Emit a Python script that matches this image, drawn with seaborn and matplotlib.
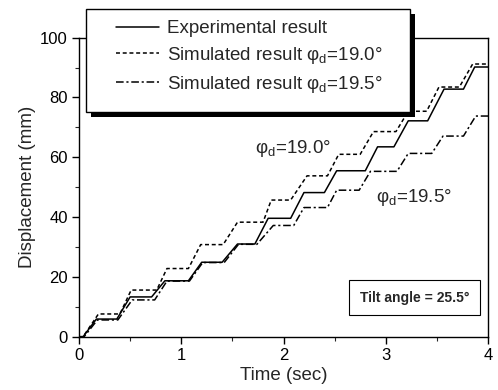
import matplotlib
matplotlib.use("Agg")
import matplotlib.pyplot as plt
import seaborn as sns
import pandas as pd
from matplotlib.patches import Rectangle
from matplotlib.ticker import MultipleLocator

# ---- data ----
t_exp = [0, 0.04, 0.17, 0.37, 0.50, 0.71, 0.84, 1.07, 1.20, 1.40, 1.55, 1.72, 1.85, 2.07,
         2.20, 2.40, 2.52, 2.80, 2.92, 3.08, 3.22, 3.41, 3.57, 3.76, 3.87, 4.00]
y_exp = [0, 0, 5.9, 5.9, 13.3, 13.3, 18.7, 18.7, 24.9, 24.9, 31.0, 31.0, 39.6, 39.6,
         48.2, 48.2, 55.5, 55.5, 63.5, 63.5, 72.2, 72.2, 82.8, 82.8, 90.2, 90.2]

t_190 = [0, 0.04, 0.19, 0.40, 0.51, 0.76, 0.86, 1.07, 1.19, 1.41, 1.55, 1.80, 1.88, 2.07,
         2.23, 2.43, 2.54, 2.75, 2.88, 3.10, 3.22, 3.40, 3.52, 3.72, 3.85, 4.00]
y_190 = [0, 0, 7.6, 7.6, 15.6, 15.6, 22.8, 22.8, 30.8, 30.8, 38.3, 38.3, 45.7, 45.7,
         53.8, 53.8, 61.0, 61.0, 68.6, 68.6, 75.4, 75.4, 83.5, 83.5, 91.2, 91.2]

t_195 = [0, 0.05, 0.18, 0.38, 0.52, 0.74, 0.86, 1.08, 1.21, 1.42, 1.56, 1.74, 1.90, 2.10,
         2.20, 2.43, 2.52, 2.74, 2.85, 3.11, 3.22, 3.45, 3.56, 3.76, 3.88, 4.00]
y_195 = [0, 0, 5.6, 5.6, 12.3, 12.3, 18.6, 18.6, 24.8, 24.8, 30.9, 30.9, 37.2, 37.2,
         43.2, 43.2, 49.0, 49.0, 55.3, 55.3, 61.3, 61.3, 67.1, 67.1, 73.8, 73.8]

labels = ["Experimental result",
          "Simulated result \u03c6$_\\mathregular{d}$=19.0\u00b0",
          "Simulated result \u03c6$_\\mathregular{d}$=19.5\u00b0"]
x_ticks = [0, 1, 2, 3, 4]
y_ticks = [0, 20, 40, 60, 80, 100]

# ---- style ----
sns.set_style("ticks")
plt.rcParams["font.family"] = ["Liberation Sans", "DejaVu Sans"]
plt.rcParams["mathtext.fontset"] = "custom"
plt.rcParams["mathtext.rm"] = "Liberation Sans"
plt.rcParams["mathtext.it"] = "Liberation Sans:italic"

fig = plt.figure(figsize=(4.98, 3.90), dpi=100)
ax = fig.add_axes([79 / 498, 1 - 336.7 / 390, (488 - 79) / 498, (336.7 - 37.7) / 390])

series = [(t_exp, y_exp, labels[0], "-"),
          (t_190, y_190, labels[1], (0, (2.6, 1.8))),
          (t_195, y_195, labels[2], (0, (5, 1.8, 1.4, 1.8)))]
for t, y, lab, ls in series:
    df = pd.DataFrame({"t": t, "y": y})
    sns.lineplot(data=df, x="t", y="y", ax=ax, color="black", lw=1.1,
                 linestyle=ls, label=lab, estimator=None, sort=False)

ax.set_xlim(0, 4)
ax.set_ylim(0, 100)
ax.set_xticks(x_ticks)
ax.set_yticks(y_ticks)
ax.xaxis.set_minor_locator(MultipleLocator(0.5))
ax.yaxis.set_minor_locator(MultipleLocator(10))
ax.tick_params(which="major", direction="out", length=5, width=1, labelsize=12, pad=3,
               colors="black")
ax.tick_params(which="minor", direction="out", length=3, width=0.8)
for s in ax.spines.values():
    s.set_linewidth(1.0)
    s.set_color("black")
ax.set_xlabel("Time (sec)", fontsize=13.5, labelpad=3)
ax.set_ylabel("Displacement (mm)", fontsize=13.5, labelpad=3)

# annotations
ax.text(1.72, 63, "\u03c6$_\\mathregular{d}$=19.0\u00b0", fontsize=13.5, ha="left", va="center")
ax.text(2.90, 46.5, "\u03c6$_\\mathregular{d}$=19.5\u00b0", fontsize=13.5, ha="left", va="center")
ax.text(3.28, 13.1, "Tilt angle = 25.5\u00b0", fontsize=10, fontweight="bold",
        family=["Liberation Sans Narrow", "Liberation Sans", "DejaVu Sans"],
        ha="center", va="center",
        bbox=dict(boxstyle="square,pad=0.75", fc="white", ec="black", lw=0.8))

# legend with a box and solid black shadow
ft = fig.transFigure
shadow = Rectangle((91 / 498, 1 - 117 / 390), 324 / 498, 103 / 390, transform=ft,
                   fc="black", ec="black", lw=0, zorder=4, clip_on=False)
box = Rectangle((86 / 498, 1 - 112 / 390), 324 / 498, 103 / 390, transform=ft,
                fc="white", ec="black", lw=1.0, zorder=4.1, clip_on=False)
ax.add_patch(shadow)
ax.add_patch(box)
leg = ax.legend(loc="upper left", bbox_to_anchor=(116 / 498, 1 - 20 / 390),
                bbox_transform=ft, frameon=False, fontsize=13.5, borderpad=0,
                borderaxespad=0, handlelength=2.3, handletextpad=0.4, labelspacing=0.42)
leg.set_zorder(5)

fig.savefig("out.png", dpi=100, facecolor="white")
